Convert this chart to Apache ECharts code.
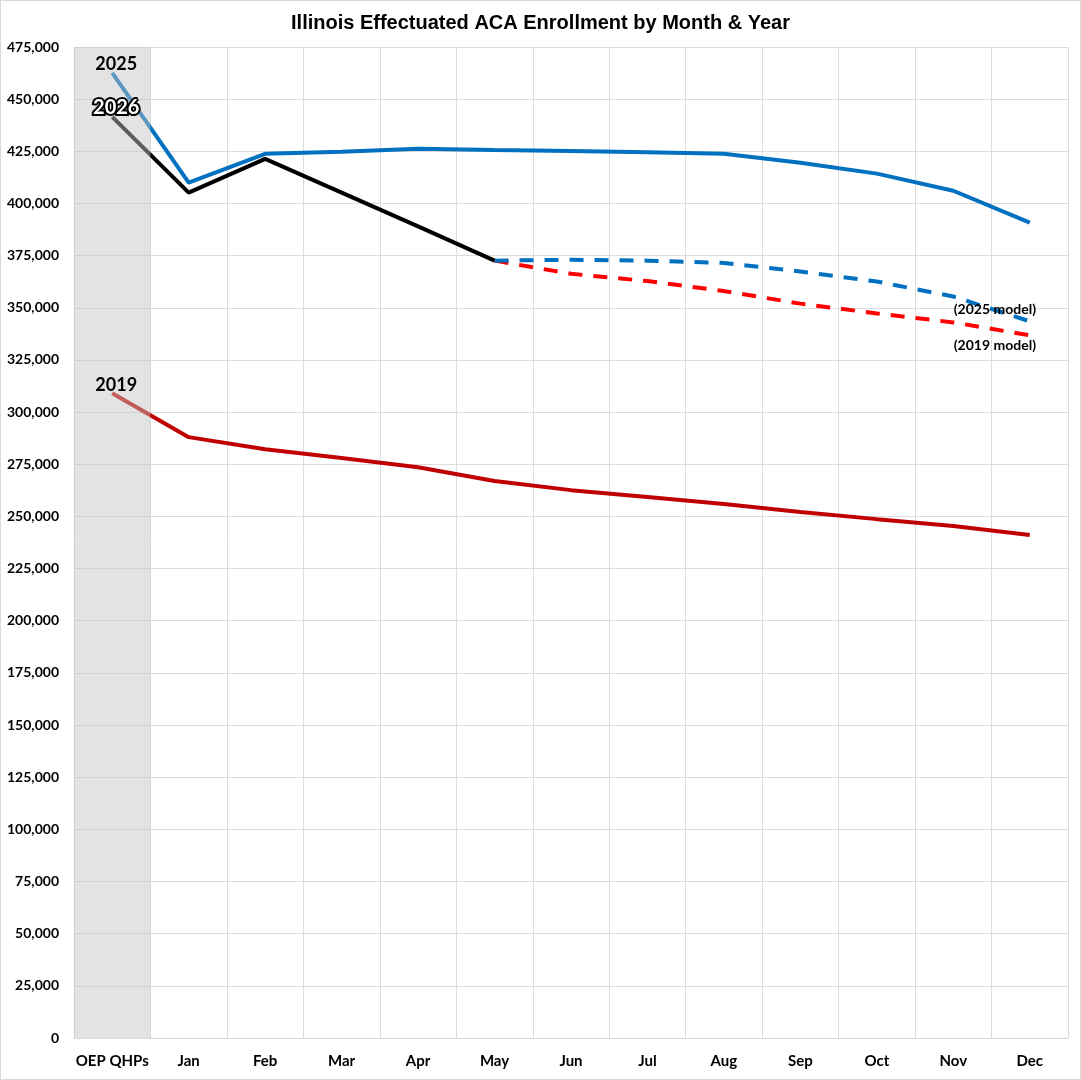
<!DOCTYPE html>
<html>
<head>
<meta charset="utf-8">
<title>Illinois Effectuated ACA Enrollment</title>
<script src="https://cdn.jsdelivr.net/npm/echarts@6/dist/echarts.min.js"></script>
<style>
  html, body { margin: 0; padding: 0; background: #fff; }
  #chart { width: 1081px; height: 1080px; box-sizing: border-box; border: 1px solid #d9d9d9; }
</style>
</head>
<body>
<div id="chart"></div>
<script>
// categories and values
var months = ['OEP QHPs', 'Jan', 'Feb', 'Mar', 'Apr', 'May', 'Jun', 'Jul', 'Aug', 'Sep', 'Oct', 'Nov', 'Dec'];
var y2019 = [309000, 288000, 282200, 278000, 273600, 267000, 262600, 259300, 255900, 252100, 248700, 245400, 241100];
var y2025 = [462600, 410000, 423800, 424800, 426200, 425600, 425100, 424600, 423800, 419500, 414300, 406100, 390800];
var y2026 = [441500, 405200, 421400, 405200, 389000, 372600, '-', '-', '-', '-', '-', '-', '-'];
var model2025 = ['-', '-', '-', '-', '-', 372600, 373000, 372600, 371500, 367400, 362600, 355400, 343500];
var model2019 = ['-', '-', '-', '-', '-', 372600, 366300, 362800, 358000, 352000, 347300, 343000, 336800];
var oepBand = [475000, '-', '-', '-', '-', '-', '-', '-', '-', '-', '-', '-', '-'];

var yMin = 0, yMax = 475000, yStep = 25000;

var labelFont = 'Lato, "Open Sans", sans-serif';

function yearLabel(name, data, idx, opts) {
    return {
        name: name + ' label',
        type: 'scatter',
        zlevel: 1,
        z: 20,
        symbolSize: 1,
        silent: true,
        itemStyle: { opacity: 1, color: 'rgba(0,0,0,0)' },
        data: [[months[idx], data[idx]]],
        label: Object.assign({
            show: true,
            formatter: name,
            position: 'inside',
            opacity: 1,
            fontFamily: labelFont,
            fontWeight: 'bold',
            color: '#000'
        }, opts)
    };
}

var chart = echarts.init(document.getElementById('chart'));

var option = {
    backgroundColor: '#fff',
    animation: false,
    title: {
        text: 'Illinois Effectuated ACA Enrollment by Month & Year',
        left: 'center',
        top: 7,
        textStyle: {
            fontFamily: '"Liberation Sans", Arial, sans-serif',
            fontSize: 20,
            fontWeight: 'bold',
            color: '#000'
        }
    },
    grid: { left: 73, right: 12, top: 46, bottom: 41 },
    xAxis: {
        type: 'category',
        data: months,
        boundaryGap: true,
        axisLine: { lineStyle: { color: '#d9d9d9' } },
        axisTick: { show: false },
        splitLine: { show: true, interval: 0, lineStyle: { color: '#dcdcdc', width: 1 } },
        axisLabel: {
            interval: 0,
            margin: 16,
            fontFamily: labelFont,
            fontWeight: 'bold',
            fontSize: 15,
            color: '#000'
        }
    },
    yAxis: {
        type: 'value',
        min: yMin,
        max: yMax,
        interval: yStep,
        axisLine: { show: false },
        axisTick: { show: false },
        splitLine: { lineStyle: { color: '#dcdcdc', width: 1 } },
        axisLabel: {
            margin: 15,
            fontFamily: labelFont,
            fontWeight: 'bold',
            fontSize: 14,
            color: '#000',
            formatter: function (v) { return v.toLocaleString('en-US'); }
        }
    },
    series: [
        {
            name: '2019',
            type: 'line',
            z: 2,
            data: y2019,
            symbol: 'none',
            lineStyle: { color: '#c00000', width: 4 }
        },
        {
            name: '2025',
            type: 'line',
            z: 3,
            data: y2025,
            symbol: 'none',
            lineStyle: { color: '#0070c0', width: 4 }
        },
        {
            name: '2019 model',
            type: 'line',
            z: 3,
            data: model2019,
            symbol: 'none',
            lineStyle: { color: '#ff0000', width: 4, type: [14, 11] },
            endLabel: {
                show: true,
                formatter: '(2019 model)',
                offset: [-84, 10],
                fontFamily: labelFont,
                fontWeight: 'bold',
                fontSize: 14,
                color: '#000'
            }
        },
        {
            name: '2025 model',
            type: 'line',
            z: 3,
            data: model2025,
            symbol: 'none',
            lineStyle: { color: '#0070c0', width: 4, type: [14, 11] },
            endLabel: {
                show: true,
                formatter: '(2025 model)',
                offset: [-84, -12],
                fontFamily: labelFont,
                fontWeight: 'bold',
                fontSize: 14,
                color: '#000'
            }
        },
        {
            name: '2026',
            type: 'line',
            z: 4,
            data: y2026,
            symbol: 'none',
            lineStyle: { color: '#000', width: 4 }
        },
        {
            // grey OEP band laid over the start of the lines
            name: 'OEP band',
            type: 'bar',
            z: 10,
            silent: true,
            barWidth: '100%',
            data: oepBand,
            itemStyle: { color: 'rgba(196,196,196,0.47)' }
        },
        yearLabel('2025', y2025, 0, { fontSize: 18, offset: [4, -9] }),
        yearLabel('2026', y2026, 0, {
            fontSize: 20, offset: [4, -9], color: '#fff',
            textBorderColor: '#000', textBorderWidth: 4
        }),
        yearLabel('2019', y2019, 0, { fontSize: 18, offset: [4, -8] })
    ]
};

chart.setOption(option);
</script>
</body>
</html>
